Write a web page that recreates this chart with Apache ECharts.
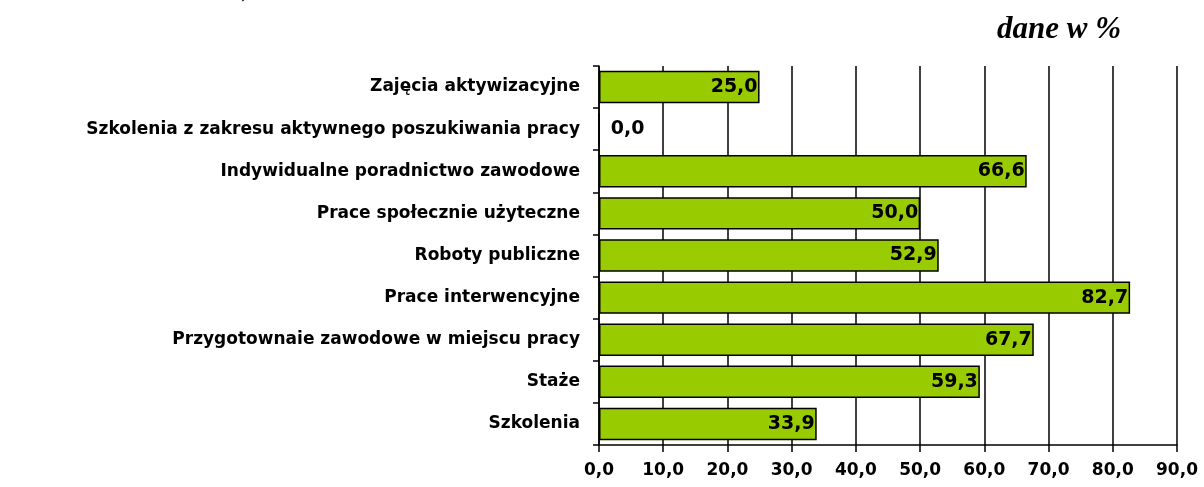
<!DOCTYPE html>
<html><head><meta charset="utf-8">
<script src="https://cdn.jsdelivr.net/npm/echarts@6/dist/echarts.min.js"></script>
<style>html,body{margin:0;padding:0;background:#fff}#c{width:1204px;height:487px}</style>
</head><body><div id="c"></div>
<script>
const categories = [
  "Zajęcia aktywizacyjne",
  "Szkolenia z zakresu aktywnego poszukiwania pracy",
  "Indywidualne poradnictwo zawodowe",
  "Prace społecznie użyteczne",
  "Roboty publiczne",
  "Prace interwencyjne",
  "Przygotownaie zawodowe w miejscu pracy",
  "Staże",
  "Szkolenia"
];
const values = [25.0, 0.0, 66.6, 50.0, 52.9, 82.7, 67.7, 59.3, 33.9];
const unitLabel = "dane w %";

const fmt = v => Number(v).toFixed(1).replace('.', ',');
const chart = echarts.init(document.getElementById('c'), null, {renderer: 'canvas'});
chart.setOption({
  animation: false,
  backgroundColor: '#fff',
  grid: {left: 599, right: 27, top: 66, bottom: 42, containLabel: false},
  graphic: [
    {type: 'text', left: 997, top: 14, style: {text: unitLabel, font: 'italic bold 31px "Liberation Serif"', fill: '#000'}},
    {type: 'text', left: 241, top: -22, style: {text: ',', font: 'italic 26px "Liberation Serif"', fill: '#000'}}
  ],
  xAxis: {
    type: 'value', min: 0, max: 90, interval: 10,
    axisLine: {show: true, lineStyle: {color: '#000', width: 1.5}},
    axisTick: {show: true, length: 7, lineStyle: {color: '#000', width: 1.5}},
    splitLine: {show: true, lineStyle: {color: '#000', width: 1.5}},
    axisLabel: {formatter: fmt, color: '#000', fontWeight: 'bold', fontSize: 17, fontFamily: 'DejaVu Sans', margin: 17}
  },
  yAxis: {
    type: 'category', data: categories, inverse: true,
    axisLine: {show: true, lineStyle: {color: '#000', width: 1.5}},
    axisTick: {show: true, length: 6, lineStyle: {color: '#000', width: 1.5}},
    axisLabel: {color: '#000', fontWeight: 'bold', fontSize: 17, fontFamily: 'DejaVu Sans', margin: 19}
  },
  series: [{
    type: 'bar', barCategoryGap: '23%',
    data: values.map(v => v === 0 ? {value: v, label: {position: 'right', distance: 11}} : v),
    itemStyle: {color: '#99CC00', borderColor: '#000', borderWidth: 1.5},
    label: {show: true, position: 'insideRight', distance: 2, formatter: p => fmt(p.value), color: '#000', fontWeight: 'bold', fontSize: 19, fontFamily: 'DejaVu Sans'}
  }]
});
</script></body></html>
